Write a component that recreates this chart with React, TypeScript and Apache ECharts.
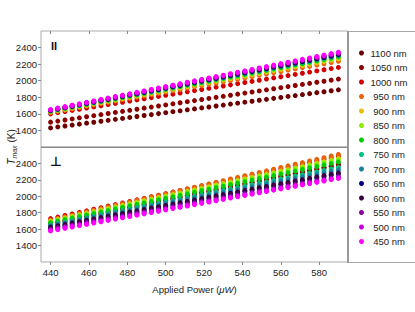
import React, { useEffect, useRef } from "react";
import * as echarts from "echarts";

// Applied power (µW)
const POWER = [440, 443.75, 447.5, 451.25, 455, 458.75, 462.5, 466.25, 470, 473.75, 477.5, 481.25, 485, 488.75, 492.5, 496.25, 500, 503.75, 507.5, 511.25, 515, 518.75, 522.5, 526.25, 530, 533.75, 537.5, 541.25, 545, 548.75, 552.5, 556.25, 560, 563.75, 567.5, 571.25, 575, 578.75, 582.5, 586.25, 590];

const WAVELENGTHS = ["1100 nm", "1050 nm", "1000 nm", "950 nm", "900 nm", "850 nm", "800 nm", "750 nm", "700 nm", "650 nm", "600 nm", "550 nm", "500 nm", "450 nm"];
const COLORS = ["#6e0000", "#8c0000", "#d20000", "#e8620a", "#e8c000", "#88ee00", "#00cc00", "#00c080", "#1a80a0", "#000080", "#3c0040", "#8c00a0", "#c800e0", "#ff00ff"];

const X_TICKS = [440, 460, 480, 500, 520, 540, 560, 580];
const Y_TICKS = [1400, 1600, 1800, 2000, 2200, 2400];

// Parallel polarisation (top panel), Tmax in K
const PAR_1100 = [1430,1442,1453,1465,1476,1488,1499,1511,1522,1534,1545,1557,1568,1580,1591,1603,1614,1626,1637,1649,1660,1672,1683,1695,1706,1718,1729,1741,1752,1764,1775,1787,1798,1810,1821,1833,1844,1856,1867,1879,1890];
const PAR_1050 = [1500,1513,1526,1539,1552,1565,1578,1591,1604,1617,1630,1643,1656,1669,1682,1695,1708,1721,1734,1747,1760,1773,1786,1799,1812,1825,1838,1851,1864,1877,1890,1903,1916,1929,1942,1955,1968,1981,1994,2007,2020];
const PAR_1000 = [1600,1614,1628,1642,1656,1670,1684,1698,1712,1726,1740,1754,1768,1782,1796,1810,1824,1838,1852,1866,1880,1894,1908,1922,1936,1950,1964,1978,1992,2006,2020,2034,2048,2062,2076,2090,2104,2118,2132,2146,2160];
const PAR_950 = [1615,1631,1646,1662,1677,1693,1708,1724,1739,1755,1770,1786,1801,1817,1832,1848,1863,1879,1894,1910,1925,1941,1956,1972,1987,2003,2018,2034,2049,2065,2080,2096,2111,2127,2142,2158,2173,2189,2204,2220,2235];
const PAR_900 = [1623,1639,1655,1671,1687,1703,1719,1735,1751,1767,1783,1799,1815,1831,1847,1863,1879,1895,1911,1927,1943,1959,1975,1991,2007,2023,2039,2055,2071,2087,2103,2119,2135,2151,2167,2183,2199,2215,2231,2247,2263];
const PAR_850 = [1630,1646,1662,1679,1695,1711,1727,1743,1760,1776,1792,1808,1824,1841,1857,1873,1889,1905,1922,1938,1954,1970,1986,2003,2019,2035,2051,2067,2084,2100,2116,2132,2148,2165,2181,2197,2213,2229,2246,2262,2278];
const PAR_800 = [1634,1650,1667,1683,1700,1716,1732,1749,1765,1782,1798,1814,1831,1847,1864,1880,1896,1913,1929,1946,1962,1978,1995,2011,2028,2044,2060,2077,2093,2110,2126,2142,2159,2175,2192,2208,2224,2241,2257,2274,2290];
const PAR_750 = [1637,1654,1670,1687,1703,1720,1737,1753,1770,1786,1803,1820,1836,1853,1869,1886,1903,1919,1936,1952,1969,1986,2002,2019,2035,2052,2069,2085,2102,2118,2135,2152,2168,2185,2201,2218,2235,2251,2268,2284,2301];
const PAR_700 = [1640,1657,1673,1690,1707,1724,1740,1757,1774,1790,1807,1824,1840,1857,1874,1891,1907,1924,1941,1957,1974,1991,2007,2024,2041,2058,2074,2091,2108,2124,2141,2158,2174,2191,2208,2225,2241,2258,2275,2291,2308];
const PAR_650 = [1642,1659,1676,1692,1709,1726,1743,1760,1776,1793,1810,1827,1844,1860,1877,1894,1911,1928,1944,1961,1978,1995,2012,2028,2045,2062,2079,2096,2112,2129,2146,2163,2180,2196,2213,2230,2247,2264,2280,2297,2314];
const PAR_600 = [1644,1661,1678,1695,1712,1729,1745,1762,1779,1796,1813,1830,1847,1864,1881,1898,1914,1931,1948,1965,1982,1999,2016,2033,2050,2067,2083,2100,2117,2134,2151,2168,2185,2202,2219,2236,2252,2269,2286,2303,2320];
const PAR_550 = [1646,1663,1680,1697,1714,1732,1749,1766,1783,1800,1817,1834,1851,1868,1885,1903,1920,1937,1954,1971,1988,2005,2022,2039,2056,2074,2091,2108,2125,2142,2159,2176,2193,2210,2227,2245,2262,2279,2296,2313,2330];
const PAR_500 = [1649,1666,1683,1701,1718,1735,1752,1769,1787,1804,1821,1838,1855,1873,1890,1907,1924,1941,1959,1976,1993,2010,2027,2045,2062,2079,2096,2113,2131,2148,2165,2182,2199,2217,2234,2251,2268,2285,2303,2320,2337];
const PAR_450 = [1652,1669,1687,1704,1721,1739,1756,1773,1790,1808,1825,1842,1860,1877,1894,1912,1929,1946,1963,1981,1998,2015,2033,2050,2067,2085,2102,2119,2136,2154,2171,2188,2206,2223,2240,2258,2275,2292,2309,2327,2344];

// Perpendicular polarisation (bottom panel), Tmax in K
const PERP_1100 = [1668,1686,1704,1722,1740,1758,1776,1794,1812,1830,1848,1866,1884,1902,1920,1938,1956,1974,1992,2010,2028,2046,2064,2082,2100,2118,2136,2154,2172,2190,2208,2226,2244,2262,2280,2298,2316,2334,2352,2370,2388];
const PERP_1050 = [1660,1678,1696,1714,1732,1750,1768,1786,1804,1822,1840,1858,1876,1894,1912,1930,1948,1966,1984,2002,2020,2038,2056,2074,2092,2110,2128,2146,2164,2182,2200,2218,2236,2254,2272,2290,2308,2326,2344,2362,2380];
const PERP_1000 = [1728,1747,1766,1785,1804,1823,1842,1861,1880,1899,1918,1937,1956,1975,1994,2013,2032,2051,2070,2089,2108,2127,2146,2165,2184,2203,2222,2241,2260,2279,2298,2317,2336,2355,2374,2393,2412,2431,2450,2469,2488];
const PERP_950 = [1710,1730,1750,1770,1790,1810,1830,1850,1870,1890,1910,1930,1950,1970,1990,2010,2030,2050,2070,2090,2110,2130,2150,2170,2190,2210,2230,2250,2270,2290,2310,2330,2350,2370,2390,2410,2430,2450,2470,2490,2510];
const PERP_900 = [1700,1719,1738,1757,1776,1795,1814,1833,1852,1871,1890,1909,1928,1947,1966,1985,2004,2023,2042,2061,2080,2099,2118,2137,2156,2175,2194,2213,2232,2251,2270,2289,2308,2327,2346,2365,2384,2403,2422,2441,2460];
const PERP_850 = [1690,1709,1728,1747,1766,1785,1804,1823,1842,1861,1880,1899,1918,1937,1956,1975,1994,2013,2032,2051,2070,2089,2108,2127,2146,2165,2184,2203,2222,2241,2260,2279,2298,2317,2336,2355,2374,2393,2412,2431,2450];
const PERP_800 = [1678,1697,1715,1734,1752,1771,1789,1808,1826,1845,1863,1882,1900,1919,1937,1956,1974,1993,2011,2030,2048,2067,2085,2104,2122,2141,2159,2178,2196,2215,2233,2252,2270,2289,2307,2326,2344,2363,2381,2400,2418];
const PERP_750 = [1650,1668,1685,1703,1720,1738,1755,1773,1790,1808,1825,1843,1860,1878,1895,1913,1930,1948,1965,1983,2000,2018,2035,2053,2070,2088,2105,2123,2140,2158,2175,2193,2210,2228,2245,2263,2280,2298,2315,2333,2350];
const PERP_700 = [1640,1657,1674,1691,1708,1725,1742,1759,1776,1793,1810,1827,1844,1861,1878,1895,1912,1929,1946,1963,1980,1997,2014,2031,2048,2065,2082,2099,2116,2133,2150,2167,2184,2201,2218,2235,2252,2269,2286,2303,2320];
const PERP_650 = [1612,1629,1645,1662,1678,1695,1711,1728,1744,1761,1777,1794,1810,1827,1843,1860,1876,1893,1909,1926,1942,1959,1975,1992,2008,2025,2041,2058,2074,2091,2107,2124,2140,2157,2173,2190,2206,2223,2239,2256,2272];
const PERP_600 = [1625,1642,1658,1675,1691,1708,1724,1741,1757,1774,1790,1807,1823,1840,1856,1873,1889,1906,1922,1939,1955,1972,1988,2005,2021,2038,2054,2071,2087,2104,2120,2137,2153,2170,2186,2203,2219,2236,2252,2269,2285];
const PERP_550 = [1598,1614,1630,1646,1662,1678,1694,1710,1726,1742,1758,1774,1790,1806,1822,1838,1854,1870,1886,1902,1918,1934,1950,1966,1982,1998,2014,2030,2046,2062,2078,2094,2110,2126,2142,2158,2174,2190,2206,2222,2238];
const PERP_500 = [1585,1601,1617,1633,1649,1665,1681,1697,1713,1729,1745,1761,1777,1793,1809,1825,1841,1857,1873,1889,1905,1921,1937,1953,1969,1985,2001,2017,2033,2049,2065,2081,2097,2113,2129,2145,2161,2177,2193,2209,2225];
const PERP_450 = [1578,1594,1610,1626,1642,1658,1674,1690,1706,1722,1738,1754,1770,1786,1802,1818,1834,1850,1866,1882,1898,1914,1930,1946,1962,1978,1994,2010,2026,2042,2058,2074,2090,2106,2122,2138,2154,2170,2186,2202,2218];

const PARALLEL = [PAR_1100, PAR_1050, PAR_1000, PAR_950, PAR_900, PAR_850, PAR_800, PAR_750, PAR_700, PAR_650, PAR_600, PAR_550, PAR_500, PAR_450];
const PERPENDICULAR = [PERP_1100, PERP_1050, PERP_1000, PERP_950, PERP_900, PERP_850, PERP_800, PERP_750, PERP_700, PERP_650, PERP_600, PERP_550, PERP_500, PERP_450];

const FONT = "'Liberation Sans', Arial, Helvetica, sans-serif";
const TEXT_COLOR = "#222";
const FRAME = "#aaa";

export default function App() {
  const ref = useRef<HTMLDivElement>(null);

  useEffect(() => {
    if (!ref.current) return;
    const chart = echarts.init(ref.current, null, { renderer: "svg" });

    const series: any[] = [];
    WAVELENGTHS.forEach((name, k) => {
      series.push({
        type: "scatter",
        name,
        xAxisIndex: 0,
        yAxisIndex: 0,
        symbol: "circle",
        symbolSize: 5,
        itemStyle: { color: COLORS[k], opacity: 1 },
        data: POWER.map((p, i) => [p, PARALLEL[k][i]]),
      });
      series.push({
        type: "scatter",
        name,
        xAxisIndex: 1,
        yAxisIndex: 1,
        symbol: "circle",
        symbolSize: 5,
        itemStyle: { color: COLORS[k], opacity: 1 },
        data: POWER.map((p, i) => [p, PERPENDICULAR[k][i]]),
      });
    });

    const yAxisCommon = {
      type: "value",
      min: 1200,
      max: 2600,
      axisLine: { show: false },
      splitLine: { show: false },
      axisTick: { show: true, length: 3, customValues: Y_TICKS, lineStyle: { color: "#888" } },
      axisLabel: {
        customValues: Y_TICKS,
        formatter: (v: number) => String(v),
        fontSize: 9.5,
        fontFamily: FONT,
        color: TEXT_COLOR,
        margin: 4,
      },
    };

    chart.setOption({
      animation: false,
      backgroundColor: "#fff",
      textStyle: { fontFamily: FONT },
      grid: [
        { left: 41, top: 31, width: 307, height: 116, show: true, borderColor: FRAME, borderWidth: 1, backgroundColor: "transparent" },
        { left: 41, top: 147, width: 307, height: 115, show: true, borderColor: FRAME, borderWidth: 1, backgroundColor: "transparent" },
      ],
      xAxis: [
        {
          type: "value",
          gridIndex: 0,
          position: "top",
          min: 435,
          max: 595,
          axisLine: { show: false },
          splitLine: { show: false },
          axisTick: { show: true, inside: true, length: 3, customValues: X_TICKS, lineStyle: { color: "#888" } },
          axisLabel: { show: false },
        },
        {
          type: "value",
          gridIndex: 1,
          position: "bottom",
          min: 435,
          max: 595,
          axisLine: { show: false },
          splitLine: { show: false },
          axisTick: { show: true, length: 3, customValues: X_TICKS, lineStyle: { color: "#888" } },
          axisLabel: {
            customValues: X_TICKS,
            formatter: (v: number) => String(v),
            fontSize: 9.5,
            fontFamily: FONT,
            color: TEXT_COLOR,
            margin: 5,
          },
        },
      ],
      yAxis: [
        { ...yAxisCommon, gridIndex: 0 },
        { ...yAxisCommon, gridIndex: 1 },
      ],
      legend: {
        data: WAVELENGTHS,
        orient: "vertical",
        left: 354,
        top: 43,
        itemWidth: 8,
        itemHeight: 5,
        itemGap: 4.5,
        icon: "circle",
        selectedMode: false,
        formatter: (n: string) => (n.length < 7 ? "\u00a0" + n : n),
        textStyle: { fontSize: 9.5, fontFamily: FONT, color: TEXT_COLOR, padding: [0, 0, 0, 0] },
      },
      graphic: [
        {
          type: "rect",
          shape: { x: 348.5, y: 31.5, width: 70, height: 231 },
          style: { fill: "none", stroke: "#aaa", lineWidth: 1 },
          z: 10,
        },
        {
          type: "line",
          shape: { x1: 348, y1: 31, x2: 348, y2: 263 },
          style: { stroke: "#999", lineWidth: 2 },
          z: 11,
        },
        {
          type: "line",
          shape: { x1: 41, y1: 147.5, x2: 348, y2: 147.5 },
          style: { stroke: "#888", lineWidth: 1 },
          z: 11,
        },
        {
          type: "text",
          left: 51,
          top: 40,
          style: { text: "II", fontSize: 11, fontWeight: "bold", fontFamily: FONT, fill: "#111" },
        },
        {
          type: "text",
          left: 50,
          top: 155,
          style: { text: "\u22a5", fontSize: 13, fontWeight: "bold", fontFamily: "'DejaVu Sans', sans-serif", fill: "#111" },
        },
        {
          type: "text",
          x: 194.5,
          y: 289,
          style: {
            text: "{n|Applied Power (}{i|\u03bcW}{n|)}",
            align: "center",
            verticalAlign: "middle",
            rich: {
              n: { fontSize: 9.5, fontFamily: FONT, fill: TEXT_COLOR },
              i: { fontSize: 9.5, fontFamily: FONT, fontStyle: "italic", fill: TEXT_COLOR },
            },
          },
        },
        {
          type: "text",
          x: 11,
          y: 147,
          rotation: Math.PI / 2,
          style: {
            text: "{i|T}{s|max}{n| (K)}",
            align: "center",
            verticalAlign: "middle",
            rich: {
              i: { fontSize: 10, fontFamily: FONT, fontStyle: "italic", fill: TEXT_COLOR, lineHeight: 14, verticalAlign: "middle" },
              s: { fontSize: 7, fontFamily: FONT, fontStyle: "italic", fill: TEXT_COLOR, lineHeight: 14, verticalAlign: "bottom" },
              n: { fontSize: 10, fontFamily: FONT, fill: TEXT_COLOR, lineHeight: 14, verticalAlign: "middle" },
            },
          },
        },
      ],
      series,
    });

    return () => chart.dispose();
  }, []);

  return (
    <div
      ref={ref}
      style={{ position: "fixed", left: 0, top: 0, width: 415, height: 312, background: "#fff" }}
    />
  );
}
